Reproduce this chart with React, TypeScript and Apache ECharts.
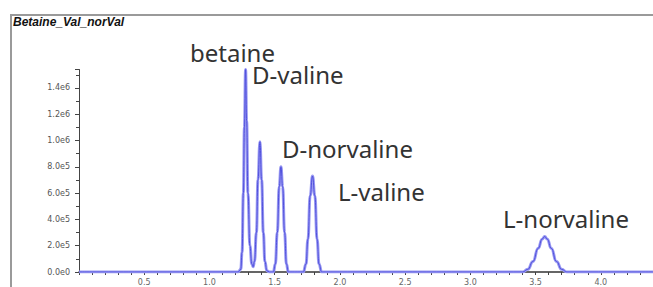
import React, { useEffect, useRef } from "react";
import * as echarts from "echarts";

const chartTitle = "Betaine_Val_norVal";

// retention time (min)
const traceTimes = [
  0, 1.22, 1.24, 1.25, 1.26, 1.268, 1.277, 1.285, 1.295, 1.31, 1.325, 1.335,
  1.345, 1.36, 1.372, 1.387, 1.4, 1.413, 1.425, 1.44, 1.46,
  1.49, 1.505, 1.52, 1.535, 1.548, 1.561, 1.576, 1.59, 1.605,
  1.72, 1.74, 1.755, 1.772, 1.79, 1.808, 1.825, 1.84, 1.86,
  3.4, 3.44, 3.48, 3.52, 3.55, 3.57, 3.59, 3.62, 3.66, 3.7, 3.74, 4.4,
];
// intensity
const traceValues = [
  0, 0, 20000, 150000, 600000, 1100000, 1540000, 1150000, 600000, 200000, 60000, 40000,
  80000, 300000, 700000, 990000, 700000, 300000, 80000, 10000, 0,
  0, 60000, 300000, 650000, 800000, 650000, 300000, 60000, 0,
  0, 60000, 250000, 580000, 730000, 580000, 250000, 60000, 0,
  0, 20000, 80000, 180000, 250000, 270000, 250000, 180000, 80000, 20000, 0, 0,
];

const peakNames = ["betaine", "D-valine", "D-norvaline", "L-valine", "L-norvaline"];

const yTickValues = [0, 200000, 400000, 600000, 800000, 1000000, 1200000, 1400000];

function fmtSci(v: number): string {
  if (v === 0) return "0.0e0";
  const e = Math.floor(Math.log10(v) + 1e-9);
  const m = v / Math.pow(10, e);
  return m.toFixed(1) + "e" + e;
}

export default function App() {
  const ref = useRef<HTMLDivElement>(null);
  useEffect(() => {
    if (!ref.current) return;
    const chart = echarts.init(ref.current, null, { renderer: "svg" });
    const data = traceTimes.map((t, i) => [t, traceValues[i]]);
    const labelPos = [
      [190, 52],
      [252, 74],
      [282, 148],
      [338, 191],
      [503, 218],
    ];
    chart.setOption({
      animation: false,
      backgroundColor: "#ffffff",
      grid: { left: 79, right: 0, top: 69.5, bottom: 15, containLabel: false },
      xAxis: {
        type: "value",
        min: 0,
        max: 4.4,
        interval: 0.5,
        axisLine: { show: true, lineStyle: { color: "#333", width: 1.5 } },
        axisTick: { show: true, length: 3, lineStyle: { color: "#444" } },
        minorTick: { show: true, splitNumber: 5, length: 3, lineStyle: { color: "#444" } },
        splitLine: { show: false },
        axisLabel: {
          margin: 6,
          fontSize: 8,
          fontFamily: "DejaVu Sans",
          color: "#666",
          showMaxLabel: false,
          formatter: (v: number) => (v === 0 ? "" : v.toFixed(1)),
        },
      },
      yAxis: {
        type: "value",
        min: 0,
        max: 1540000,
        interval: 200000,
        axisLine: { show: true, lineStyle: { color: "#444", width: 1 } },
        axisTick: { show: true, length: 4, lineStyle: { color: "#444" } },
        minorTick: { show: true, splitNumber: 2, length: 3, lineStyle: { color: "#444" } },
        splitLine: { show: false },
        axisLabel: {
          margin: 9,
          fontSize: 8,
          fontFamily: "DejaVu Sans",
          color: "#555",
          showMaxLabel: false,
          formatter: (v: number) => (yTickValues.indexOf(v) >= 0 ? fmtSci(v) : ""),
        },
      },
      series: [
        {
          type: "line",
          data,
          showSymbol: false,
          smooth: 0.5,
          smoothMonotone: "x",
          lineStyle: { color: "#9a9af2", width: 3 },
          z: 3,
        },
        {
          type: "line",
          data,
          showSymbol: false,
          smooth: 0.5,
          smoothMonotone: "x",
          lineStyle: { color: "#5050dc", width: 1 },
          z: 4,
        },
      ],
      graphic: [
        {
          type: "rect",
          shape: { x: 11, y: 15, width: 700, height: 320 },
          style: { fill: "none", stroke: "#9a9a9a", lineWidth: 2 },
          silent: true,
        },
        {
          type: "text",
          x: 13,
          y: 22,
          style: {
            text: chartTitle,
            font: "italic bold 12px 'Liberation Sans'",
            fill: "#111",
            verticalAlign: "middle",
            align: "left",
          },
        },
        ...peakNames.map((n, i) => ({
          type: "text",
          x: labelPos[i][0],
          y: labelPos[i][1],
          style: {
            text: n,
            font: "24px 'Noto Sans'",
            fill: "#333",
            verticalAlign: "middle",
            align: "left",
          },
        })),
      ],
    });
    return () => chart.dispose();
  }, []);
  return (
    <div
      ref={ref}
      style={{ position: "fixed", left: 0, top: 0, width: 653, height: 287 }}
    />
  );
}
